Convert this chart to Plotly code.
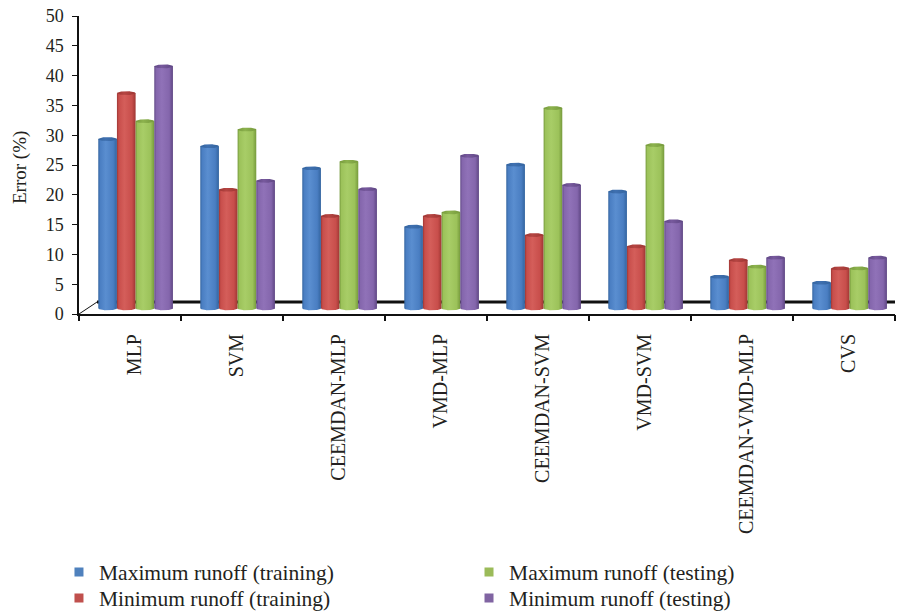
import numpy as np
import plotly.graph_objects as go

# ---- data -------------------------------------------------------------
categories = ["MLP", "SVM", "CEEMDAN-MLP", "VMD-MLP", "CEEMDAN-SVM",
              "VMD-SVM", "CEEMDAN-VMD-MLP", "CVS"]
max_runoff_training = [28.8, 27.6, 23.9, 14.1, 24.5, 20.0, 5.7, 4.7]
min_runoff_training = [36.5, 20.3, 15.9, 15.9, 12.7, 10.8, 8.5, 7.1]
max_runoff_testing = [31.8, 30.4, 25.0, 16.5, 34.0, 27.8, 7.4, 7.1]
min_runoff_testing = [41.0, 21.8, 20.4, 26.0, 21.1, 15.0, 8.9, 8.9]
y_ticks = [0, 5, 10, 15, 20, 25, 30, 35, 40, 45, 50]

series = [
    ("Maximum runoff (training)", max_runoff_training),
    ("Minimum runoff (training)", min_runoff_training),
    ("Maximum runoff (testing)", max_runoff_testing),
    ("Minimum runoff (testing)", min_runoff_testing),
]

# ---- styling ----------------------------------------------------------
FONT = "Liberation Serif"
TEXT = "#231f20"
# (legend/base, edge shade, highlight, mid, cap shade)
palette = [
    ("#4f81bd", "#33649f", "#5a8ed0", "#4a7ec2", "#3f70b0"),
    ("#c0504d", "#9e3633", "#d45e5a", "#c84e4b", "#b54542"),
    ("#9bbb59", "#769a3c", "#a8cd67", "#9cc25a", "#8cb24d"),
    ("#8064a2", "#5f4784", "#9072b8", "#8466ac", "#77599d"),
]
# one legend box per entry: (name, x, y) in container coordinates
legend_boxes = [
    ("legend", 0.0656, 0.0654),
    ("legend2", 0.0656, 0.0229),
    ("legend3", 0.5217, 0.0654),
    ("legend4", 0.5217, 0.0229),
]

BAR_W = 0.183        # cylinder diameter in category units
GROUP_SHIFT = 0.055  # depth offset of the bar group
TOP_LIFT = 0.55      # depth lift applied to the top of each cylinder
FLOOR = 0.95         # centre of the cylinder bases on the 3D floor
CAP_RY = 0.33        # vertical half-axis of the elliptical ends

fig = go.Figure()

t_low = np.linspace(np.pi, 2 * np.pi, 40)
t_full = np.linspace(0, 2 * np.pi, 80)
hw = BAR_W / 2

for i in range(len(categories)):
    for s, (name, vals) in enumerate(series):
        base, edge, hi, mid, cap = palette[s]
        xc = i + GROUP_SHIFT + (s - 1.5) * BAR_W
        top = vals[i] + TOP_LIFT
        bot = FLOOR
        # body: lower half of the bottom ellipse, sides, up to the top centre line
        bx = np.concatenate([xc + hw * np.cos(t_low), [xc + hw, xc - hw]])
        by = np.concatenate([bot + CAP_RY * np.sin(t_low), [top, top]])
        fig.add_trace(go.Scatter(
            x=bx, y=by, mode="lines", fill="toself",
            line=dict(width=0), hoverinfo="skip", showlegend=False,
            fillgradient=dict(type="horizontal", start=xc - hw, stop=xc + hw,
                              colorscale=[[0, edge], [0.1, mid], [0.4, hi],
                                          [0.8, mid], [1, edge]]),
        ))
        # top cap
        cx = xc + hw * np.cos(t_full)
        cy = top + CAP_RY * np.sin(t_full)
        fig.add_trace(go.Scatter(
            x=cx, y=cy, mode="lines", fill="toself",
            line=dict(width=0), hoverinfo="skip", showlegend=False,
            fillgradient=dict(type="horizontal", start=xc - hw, stop=xc + hw,
                              colorscale=[[0, edge], [0.4, cap], [1, edge]]),
        ))

# legend entries
for s in range(4):
    name = series[s][0]
    fig.add_trace(go.Scatter(
        x=[None], y=[None], mode="markers", name=name,
        marker=dict(symbol="square", size=9, color=palette[s][0]),
        legend=legend_boxes[s][0],
    ))

# invisible trace so the boundary-tick axis is drawn
fig.add_trace(go.Scatter(x=[None], y=[None], xaxis="x2", showlegend=False,
                         hoverinfo="skip"))

n = len(categories)
# 3D floor: back edge and left depth line
fig.add_shape(type="line", xref="x", yref="y", x0=-0.324, x1=n - 0.5 + 0.18,
              y0=2.0, y1=2.0, line=dict(color="#111111", width=3), layer="below")
fig.add_shape(type="line", xref="x", yref="y", x0=-0.5, x1=-0.324,
              y0=0, y1=2.0, line=dict(color="#111111", width=1), layer="below")

# value-axis title
fig.add_annotation(text="Error (%)", xref="paper", yref="paper",
                   x=-0.0723, y=0.49, textangle=-90, showarrow=False,
                   xanchor="center", yanchor="middle",
                   font=dict(family=FONT, size=19, color=TEXT))

legend_style = dict(xref="container", yref="container", xanchor="left",
                    yanchor="middle", bgcolor="rgba(0,0,0,0)",
                    font=dict(family=FONT, size=21.5, color=TEXT))
legend_layout = {key: dict(x=x, y=y, **legend_style)
                 for key, x, y in legend_boxes}

fig.update_layout(
    width=899, height=612,
    margin=dict(l=79, r=4, t=16, b=298, autoexpand=False),
    paper_bgcolor="white", plot_bgcolor="white",
    font=dict(family=FONT, color=TEXT),
    xaxis=dict(
        range=[-0.5, n - 0.5], tickmode="array",
        tickvals=[k + 0.04 for k in range(n)], ticktext=categories,
        tickangle=-90,
        ticks="outside", ticklen=10, tickcolor="rgba(0,0,0,0)",
        showline=True, linecolor="#111111", linewidth=2,
        showgrid=False, zeroline=False, automargin=False,
        tickfont=dict(family=FONT, size=20, color=TEXT),
    ),
    xaxis2=dict(
        overlaying="x", anchor="y", side="bottom",
        range=[-0.5, n - 0.5], tickmode="array",
        tickvals=[k - 0.5 for k in range(n + 1)],
        ticks="outside", ticklen=6, tickwidth=2, tickcolor="#111111",
        showticklabels=False, showline=False, showgrid=False, zeroline=False,
        automargin=False,
    ),
    yaxis=dict(
        range=[0, 50], tickmode="array", tickvals=y_ticks,
        ticks="outside", ticklen=5, tickcolor="#111111",
        ticklabelstandoff=5,
        showline=True, linecolor="#111111", linewidth=1.5,
        showgrid=False, zeroline=False, automargin=False,
        tickfont=dict(family=FONT, size=18, color=TEXT),
    ),
    **legend_layout,
)

fig.write_html("out.html")
